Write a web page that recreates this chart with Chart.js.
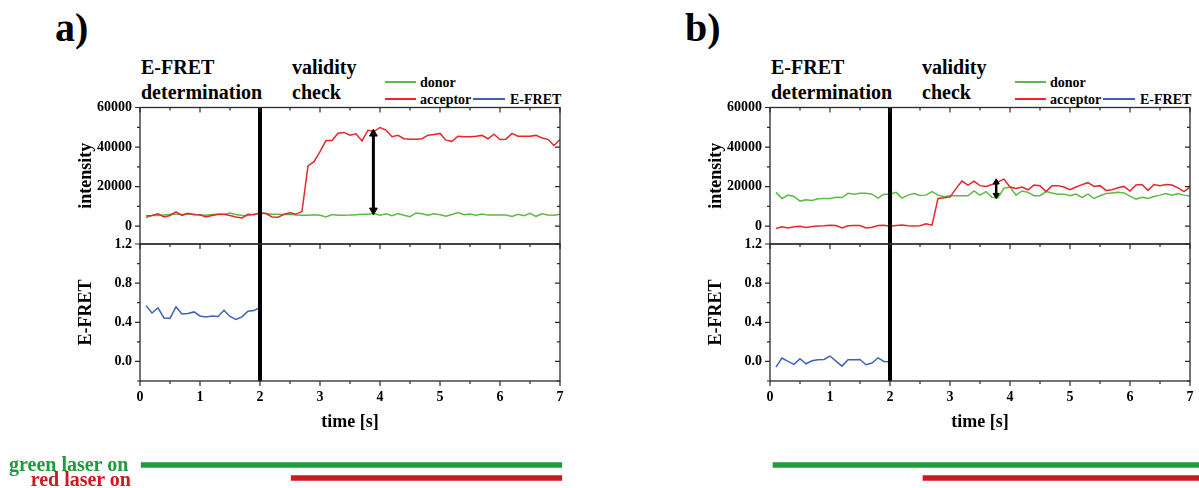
<!DOCTYPE html>
<html>
<head>
<meta charset="utf-8">
<script src="https://cdn.jsdelivr.net/npm/chart.js@4.4.1/dist/chart.umd.min.js"></script>
<style>
body{margin:0;width:1199px;height:488px;overflow:hidden;background:#fff;position:relative;
  font-family:"Liberation Serif","Times New Roman",serif;font-weight:bold;color:#000;}
canvas{position:absolute;}
.t{position:absolute;white-space:nowrap;}
.ln{position:absolute;height:2px;}
</style>
</head>
<body>
<script>
// sample times (s)
const times = [0.1,0.2,0.3,0.4,0.5,0.6,0.7,0.8,0.9,1.0,
  1.1,1.2,1.3,1.4,1.5,1.6,1.7,1.8,1.9,2.0,
  2.1,2.2,2.3,2.4,2.5,2.6,2.7,2.8,2.9,3.0,
  3.1,3.2,3.3,3.4,3.5,3.6,3.7,3.8,3.9,4.0,
  4.1,4.2,4.3,4.4,4.5,4.6,4.7,4.8,4.9,5.0,
  5.1,5.2,5.3,5.4,5.5,5.6,5.7,5.8,5.9,6.0,
  6.1,6.2,6.3,6.4,6.5,6.6,6.7,6.8,6.9,7.0];
const efretTimes = times.slice(0, 20);

// panel a
const donorA = [4200,5400,5400,5700,6000,6000,5900,6000,6100,5600,
  5500,5900,6100,5900,6600,5900,5400,5400,6100,6600,
  6400,6100,6100,5900,6000,5700,5500,5500,5800,5500,
  4700,5900,5500,5500,5600,5800,6000,6100,6400,5600,
  6300,5300,6400,5500,4800,6700,6300,5600,6300,5800,
  5100,5900,6900,5800,6200,5600,6200,5600,5700,5600,
  5700,4900,6000,5300,6500,5000,6300,5700,5500,6000];
const acceptorA = [5200,5400,6250,4700,5400,7260,5500,6500,5800,5800,
  4700,5400,6000,6000,5400,4700,4200,6000,5800,6800,
  6400,4700,4500,6000,6800,6000,7500,30500,32600,37700,
  43300,43300,47000,47400,46000,46700,43100,48500,47900,49900,
  48600,45200,45900,44200,43900,43900,44200,46000,46400,46900,
  43500,42900,45500,45200,45200,45500,45900,44200,46500,43800,
  44000,46900,45500,45500,45500,45900,44600,43900,40800,43800];
const efretA = [0.57,0.495,0.547,0.444,0.44,0.557,0.485,0.49,0.506,0.465,
  0.455,0.465,0.46,0.523,0.46,0.43,0.455,0.513,0.52,0.55];
const arrowA = [3.89, 8000, 46700];          // time, from, to
const greenLaserA = [0.02, 7.03];
const redLaserA = [2.52, 7.03];

// panel b
const donorB = [17100,14000,15700,15000,12700,13400,13000,13900,14000,14000,
  14600,14500,16600,16200,16600,16600,16200,14200,16200,16200,
  17100,14200,15700,16500,15500,15700,17500,15700,14900,15400,
  15400,15400,15400,17800,15700,17500,14600,14400,19200,19800,
  15700,17800,17100,15400,15400,17500,16800,16200,16200,15400,
  16200,14600,16200,14000,15400,16500,16800,17100,16800,15200,
  13700,14600,14000,15000,15700,16500,15700,16500,15700,15200];
const acceptorB = [-1200,-300,-900,-300,0,-600,-100,100,200,500,
  300,-900,200,300,300,-900,-500,300,500,0,
  400,600,200,100,200,1200,500,14000,14400,14700,
  19000,22800,20800,22800,20500,20100,21100,22400,23800,19800,
  19100,19800,18400,20800,20500,17500,20500,20500,19800,18400,
  19800,21000,22000,20100,20500,18100,18400,19400,20100,17800,
  20800,21100,18100,21100,20500,21100,20800,19400,17500,19800];
const efretB = [-0.058,0.034,0.0,-0.03,0.027,-0.024,0.007,0.017,0.02,0.055,
  0.003,-0.048,0.017,0.017,0.02,-0.034,-0.017,0.037,0.0,-0.003];
const arrowB = [3.77, 15700, 22200];
const greenLaserB = [0.05, 7.15];
const redLaserB = [2.55, 7.15];

// shared
const divider = [2];
const timeRange = [0, 7];
const intensityRange = [-9000, 60000];
const efretRange = [-0.2, 1.2];
const timeTicks = [0,1,2,3,4,5,6,7];
const intensityTicks = [0,20000,40000,60000];
const efretTicks = [0.0,0.4,0.8,1.2];
const laserRange = [0, 7.15];

const FAM = '"Liberation Serif","Times New Roman",serif';
const GREEN = '#5cba45', RED = '#e8262b', BLUE = '#3f63b3';
const LGREEN = '#1f9a3c', LRED = '#cc1a22';

Chart.defaults.font.family = FAM;
Chart.defaults.color = '#000';

/* frame + ticks like the original (left/bottom out, top/right in) */
const framePlugin = {
  id: 'frame',
  afterDraw(chart, args, o) {
    const {ctx, chartArea: a} = chart;
    const x = chart.scales.x, y = chart.scales.y;
    ctx.save();
    ctx.strokeStyle = '#2a2a2a';
    ctx.lineWidth = 1.3;
    ctx.strokeRect(a.left, a.top, a.right - a.left, a.bottom - a.top);
    ctx.lineWidth = 1.2;
    ctx.beginPath();
    for (let i = 0; i <= 14; i++) {
      const px = x.getPixelForValue(i * 0.5);
      const len = i % 2 === 0 ? 5 : 3;
      ctx.moveTo(px, a.top); ctx.lineTo(px, a.top + len);
      if (o.bottom) { ctx.moveTo(px, a.bottom); ctx.lineTo(px, a.bottom + len); }
    }
    const k0 = Math.ceil(y.min / o.step - 1e-6), k1 = Math.floor(y.max / o.step + 1e-6);
    for (let k = k0; k <= k1; k++) {
      const py = y.getPixelForValue(k * o.step);
      const len = k % 2 === 0 ? 5 : 3;
      ctx.moveTo(a.left, py); ctx.lineTo(a.left - len, py);
      ctx.moveTo(a.right, py); ctx.lineTo(a.right - len, py);
    }
    ctx.stroke();
    ctx.restore();
  }
};

function addText(txt, left, top, size, extra) {
  const d = document.createElement('div');
  d.className = 't';
  d.innerHTML = txt;
  d.style.left = left + 'px';
  d.style.top = top + 'px';
  d.style.fontSize = size + 'px';
  Object.assign(d.style, extra || {});
  document.body.appendChild(d);
  return d;
}
function addLine(left, top, w, color) {
  const d = document.createElement('div');
  d.className = 'ln';
  d.style.left = left + 'px'; d.style.top = top + 'px';
  d.style.width = w + 'px'; d.style.background = color;
  document.body.appendChild(d);
}
function mkCanvas(left, top, w, h) {
  const c = document.createElement('canvas');
  c.width = w; c.height = h;
  c.style.left = left + 'px'; c.style.top = top + 'px';
  c.style.width = w + 'px'; c.style.height = h + 'px';
  document.body.appendChild(c);
  return c;
}
const pts = (xs, ys) => xs.map((t, i) => ({x: t, y: ys[i]}));
const tickFont = {size: 14, weight: 'bold', family: FAM};
const titleFont = {size: 18, weight: 'bold', family: FAM};

function yAxis(range, ticks, fmt, title) {
  return {
    min: range[0], max: range[1],
    afterFit: s => { s.width = 68; s.paddingTop = 0; s.paddingBottom = 0; },
    afterBuildTicks: s => { s.ticks = ticks.map(v => ({value: v})); },
    grid: {display: false, drawTicks: false},
    border: {display: false},
    ticks: {padding: 8, color: '#000', font: tickFont, callback: fmt},
    title: {display: true, text: title, color: '#000', font: titleFont, padding: {top: 4, bottom: 4}}
  };
}

function buildPanel(dx, letter, donor, acceptor, efret, arrow, greenLaser, redLaser, arrowSize) {
  addText(letter, dx + 55, 8, 40, {lineHeight: '40px'});
  addText('E-FRET<br>determination', dx + 141, 55, 20, {lineHeight: '25px'});
  addText('validity<br>check', dx + 292, 55, 20, {lineHeight: '25px'});
  addLine(dx + 385, 81, 31, GREEN);
  addText('donor', dx + 420, 76, 14, {lineHeight: '14px'});
  addLine(dx + 385, 98, 31, RED);
  addText('acceptor', dx + 420, 93, 14, {lineHeight: '14px'});
  addLine(dx + 473, 98, 32, BLUE);
  addText('E-FRET', dx + 510, 93, 14, {lineHeight: '14px'});

  // intensity
  new Chart(mkCanvas(dx, 95, 570, 155), {
    type: 'line',
    data: {datasets: [
      {data: [{x: divider[0], y: intensityRange[0]}, {x: divider[0], y: intensityRange[1]}],
       borderColor: '#000', borderWidth: 4, pointRadius: 0},
      {data: [{x: arrow[0], y: arrow[1]}, {x: arrow[0], y: arrow[2]}],
       borderColor: '#000', borderWidth: arrowSize[0], pointStyle: 'triangle',
       pointRadius: arrowSize[1], pointRotation: [180, 0],
       pointBackgroundColor: '#000', pointBorderColor: '#000', pointBorderWidth: 1},
      {data: pts(times, acceptor), borderColor: RED, borderWidth: 1.5, pointRadius: 0},
      {data: pts(times, donor), borderColor: GREEN, borderWidth: 1.5, pointRadius: 0}
    ]},
    options: {
      responsive: false, animation: false,
      layout: {padding: {left: 72, right: 10, top: 12.5, bottom: 6}},
      plugins: {legend: {display: false}, tooltip: {enabled: false}, frame: {step: 10000, bottom: false}},
      scales: {
        x: {type: 'linear', min: timeRange[0], max: timeRange[1], display: false},
        y: yAxis(intensityRange, intensityTicks, v => String(v), 'intensity')
      }
    },
    plugins: [framePlugin]
  });

  // E-FRET
  const xb = {
    type: 'linear', min: timeRange[0], max: timeRange[1],
    afterFit: s => { s.height = 56; s.paddingLeft = 0; s.paddingRight = 0; },
    afterBuildTicks: s => { s.ticks = timeTicks.map(v => ({value: v})); },
    grid: {display: false, drawTicks: false},
    border: {display: false},
    ticks: {padding: 8, color: '#000', font: tickFont, maxRotation: 0, callback: v => String(v)},
    title: {display: true, text: 'time [s]', color: '#000', font: titleFont, padding: {top: 4, bottom: 4}}
  };
  new Chart(mkCanvas(dx, 230, 570, 210), {
    type: 'line',
    data: {datasets: [
      {data: [{x: divider[0], y: efretRange[0]}, {x: divider[0], y: efretRange[1]}],
       borderColor: '#000', borderWidth: 4, pointRadius: 0},
      {data: pts(efretTimes, efret), borderColor: BLUE, borderWidth: 1.5, pointRadius: 0}
    ]},
    options: {
      responsive: false, animation: false,
      layout: {padding: {left: 72, right: 10, top: 14, bottom: 3}},
      plugins: {legend: {display: false}, tooltip: {enabled: false}, frame: {step: 0.2, bottom: true}},
      scales: {
        x: xb,
        y: yAxis(efretRange, efretTicks, v => v.toFixed(1), 'E-FRET')
      }
    },
    plugins: [framePlugin]
  });

  // laser bars
  new Chart(mkCanvas(dx, 452, 570, 36), {
    type: 'bar',
    data: {labels: ['green laser on', 'red laser on'], datasets: [{
      data: [greenLaser, redLaser],
      backgroundColor: [LGREEN, LRED],
      barThickness: 5, borderSkipped: false
    }]},
    options: {
      indexAxis: 'y', responsive: false, animation: false,
      layout: {padding: {left: 140, right: 1, top: 6.5, bottom: 3.5}},
      plugins: {legend: {display: false}, tooltip: {enabled: false}},
      scales: {
        x: {type: 'linear', min: laserRange[0], max: laserRange[1], display: false},
        y: {display: false}
      }
    }
  });
}

buildPanel(0, 'a)', donorA, acceptorA, efretA, arrowA, greenLaserA, redLaserA, [3, 4.5]);
buildPanel(630, 'b)', donorB, acceptorB, efretB, arrowB, greenLaserB, redLaserB, [2.5, 3.5]);

addText('green laser on', 9, 454, 20, {lineHeight: '20px', color: LGREEN});
addText('red laser on', 0, 469, 20, {lineHeight: '20px', color: LRED, width: '131px', textAlign: 'right'});
</script>
</body>
</html>
